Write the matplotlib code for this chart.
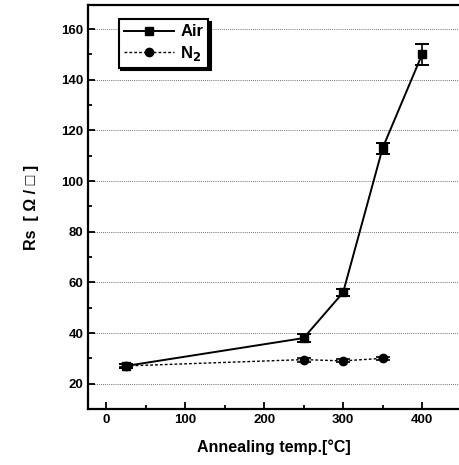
import matplotlib
matplotlib.use("Agg")
import matplotlib.pyplot as plt
from matplotlib.lines import Line2D
from matplotlib.ticker import MultipleLocator

plt.rcParams['font.family'] = ['Liberation Sans', 'DejaVu Sans']
plt.rcParams['font.weight'] = 'bold'

# data
temp_air = [25, 250, 300, 350, 400]
rs_air = [27, 38, 56, 113, 150]
err_air = [0.8, 1.5, 1.2, 2.2, 4.0]

temp_n2 = [25, 250, 300, 350]
rs_n2 = [27, 29.5, 29, 30]
err_n2 = [0.6, 0.8, 0.6, 0.7]

xticks = [0, 100, 200, 300, 400]
yticks = [20, 40, 60, 80, 100, 120, 140, 160]

fig = plt.figure(figsize=(4.6, 4.65), dpi=100)
ax = fig.add_axes([88 / 460, 56 / 465, 1 - 88 / 460, (409 - 5) / 465])

ax.errorbar(temp_air, rs_air, yerr=err_air, color='black', lw=1.4,
            marker='s', ms=6, capsize=5, capthick=1.4, elinewidth=1.2)
ax.errorbar(temp_n2, rs_n2, yerr=err_n2, color='black', lw=1.0, ls=(0, (2, 1.5)),
            marker='o', ms=6, capsize=5, capthick=1.2, elinewidth=1.0)

ax.set_xlim(-23, 448)
ax.set_ylim(10, 169.5)
ax.set_xticks(xticks)
ax.set_yticks(yticks)
ax.xaxis.set_minor_locator(MultipleLocator(50))
ax.yaxis.set_minor_locator(MultipleLocator(10))
ax.tick_params(which='both', direction='in', width=1.3, labelsize=9.5)
ax.tick_params(which='major', length=5)
ax.tick_params(which='minor', length=3)
ax.yaxis.grid(True, ls=(0, (1, 1.5)), color='#444444', lw=0.6)

for s in ['left', 'bottom', 'top']:
    ax.spines[s].set_linewidth(1.6)
ax.spines['right'].set_visible(False)

ax.set_xlabel('Annealing temp.[°C]', fontsize=11.5, fontweight='bold', labelpad=10)
ax.set_ylabel('Rs  [ Ω / □ ]', fontsize=11.5, fontweight='bold', labelpad=16)

handles = [Line2D([], [], color='black', lw=1.4, marker='s', ms=6),
           Line2D([], [], color='black', lw=1.0, ls=(0, (2, 1.5)), marker='o', ms=6)]
leg = ax.legend(handles, ['Air', 'N$_2$'], loc='upper left',
                bbox_to_anchor=(0.06, 0.985), fontsize=12,
                frameon=True, fancybox=False, shadow={'color': 'black', 'alpha': 1},
                edgecolor='black', handlelength=3, borderpad=0.3, labelspacing=0.25,
                handletextpad=0.4)
leg.get_frame().set_linewidth(1.5)

fig.savefig('out.png', dpi=100)
